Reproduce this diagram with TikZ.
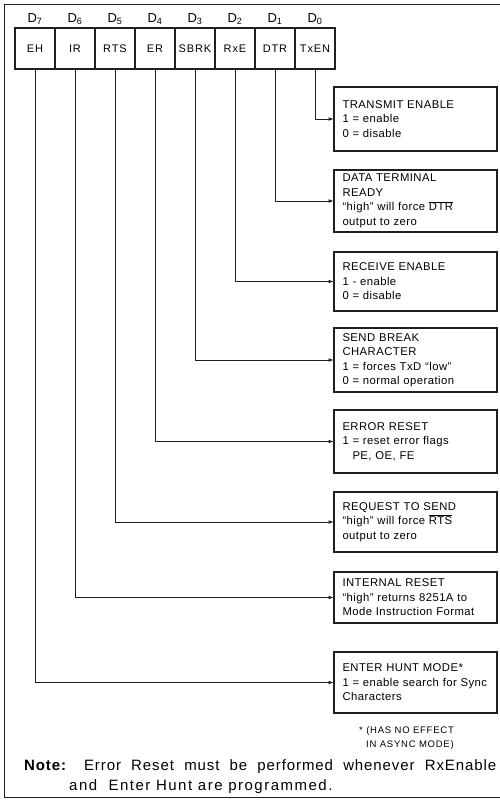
\documentclass[tikz,border=0pt]{standalone}
\usepackage{fontspec}
\setmainfont{Liberation Sans}
\newfontfamily\cellfont[LetterSpace=8]{Liberation Sans}
\newfontfamily\boxfont[LetterSpace=4]{Liberation Sans}
\newfontfamily\notefont[LetterSpace=6]{Liberation Sans}
\usepackage{tikz}
\usetikzlibrary{arrows.meta, positioning}

\begin{document}
\begin{tikzpicture}[x=1pt, y=-1pt, node distance=19pt]
  \colorlet{inkcol}{black!88}

  \tikzset{
    frame/.style={draw=inkcol, line width=1.4pt},
    bitcell/.style={
      rectangle, draw=inkcol, line width=1.7pt,
      minimum width=40pt, minimum height=41pt, inner sep=0pt,
      font=\cellfont\fontsize{11}{13}\selectfont
    },
    bitname/.style={inner sep=0pt, anchor=base, font=\fontsize{13}{15}\selectfont},
    descbox/.style={
      rectangle, draw=inkcol, line width=1.7pt, outer sep=0pt,
      text width=146pt, inner xsep=8.5pt, inner ysep=0pt,
      align=left, minimum height=#1,
      font=\boxfont\fontsize{11.3}{14.5}\selectfont
    },
    descbox/.default=60pt,
    footnote/.style={inner sep=0pt, align=left, font=\cellfont\fontsize{9.5}{14}\selectfont},
    notetext/.style={inner sep=0pt, anchor=base west, font=\notefont\fontsize{15}{18}\selectfont},
    arr/.style={
      -{Latex[length=5.5pt, width=3.8pt]},
      line width=1pt, draw=inkcol
    }
  }

  \useasboundingbox (0,0) rectangle (500,801);

  % outer frame (right side is cut off)
  \coordinate (frametr) at (500,4.5);
  \coordinate (framebl) at (4.5,797.5);
  \coordinate (framebr) at (500,797.5);
  \draw[frame] (frametr) -| (framebl) -- (framebr);

  % command register bits
  \foreach \bit/\name [count=\i from 0] in {7/EH, 6/IR, 5/RTS, 4/ER, 3/SBRK, 2/RxE, 1/DTR, 0/TxEN} {
    \node[bitcell] (bit\bit) at ({35+40*\i},48.5) {\name};
    \node[bitname] (d\bit) at ({35+40*\i},22) {D\textsubscript{\bit}};
  }

  % descriptions
  \node[descbox=64pt, anchor=north west] (txen) at (334,87)
    {TRANSMIT ENABLE\\1 = enable\\0 = disable};
  \node[descbox=62pt, below=of txen] (dtr)
    {DATA TERMINAL\\READY\\“high” will force $\overline{\mbox{DTR}}$\\output to zero};
  \node[descbox=59pt, below=20pt of dtr] (rxe)
    {RECEIVE ENABLE\\1 - enable\\0 = disable};
  \node[descbox=64pt, below=17pt of rxe] (sbrk)
    {SEND BREAK\\CHARACTER\\1 = forces TxD “low”\\0 = normal operation};
  \node[descbox=63pt, below=18pt of sbrk] (er)
    {ERROR RESET\\1 = reset error flags\\\hspace*{10pt}PE, OE, FE};
  \node[descbox=60pt, below=of er] (rts)
    {REQUEST TO SEND\\“high” will force $\overline{\mbox{RTS}}$\\output to zero};
  \node[descbox=51pt, below=20pt of rts] (ir)
    {INTERNAL RESET\\“high” returns 8251A to\\Mode Instruction Format};
  \node[descbox=61pt, below=29pt of ir] (eh)
    {ENTER HUNT MODE*\\1 = enable search for Sync\\Characters};

  \node[footnote, anchor=north west] (nohunt) at ([xshift=25pt, yshift=-13pt]eh.south west)
    {* (HAS NO EFFECT\\\hspace*{7pt}IN ASYNC MODE)};

  \node[notetext] (note1) at (24,770)
    {\makebox[472pt][s]{\textbf{Note:} Error Reset must be performed whenever RxEnable}};
  \node[notetext] (note2) at ([xshift=45pt, yshift=-20pt]note1.base west)
    {\addfontfeatures{LetterSpace=10}and\ \ Enter Hunt are programmed.};

  % bit lines
  \draw[arr] (bit0.south) |- (txen.west);
  \draw[arr] (bit1.south) |- (dtr.west);
  \draw[arr] (bit2.south) |- (rxe.west);
  \draw[arr] (bit3.south) |- (sbrk.west);
  \draw[arr] (bit4.south) |- (er.west);
  \draw[arr] (bit5.south) |- (rts.west);
  \draw[arr] (bit6.south) |- (ir.west);
  \draw[arr] (bit7.south) |- (eh.west);
\end{tikzpicture}
\end{document}
